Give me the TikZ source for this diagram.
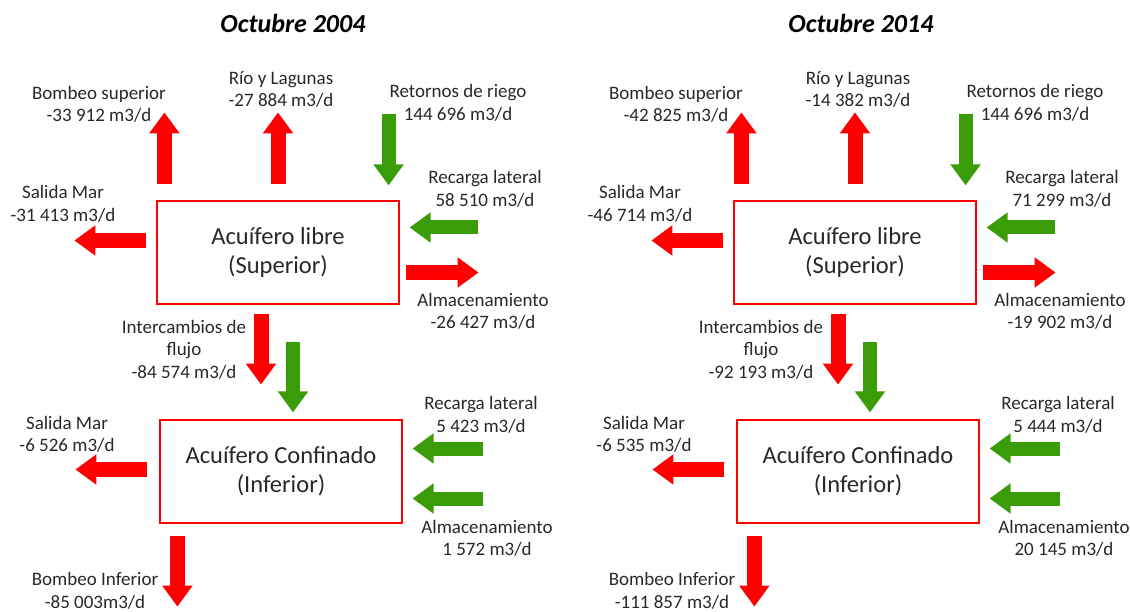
\documentclass[tikz,border=0pt]{standalone}
\usepackage{fontspec}
\setmainfont{Carlito}
\usetikzlibrary{arrows.meta,calc}

\definecolor{rojo}{RGB}{255,0,0}
\definecolor{verde}{RGB}{58,156,8}
\definecolor{texto}{RGB}{40,40,40}

\begin{document}
\begin{tikzpicture}[x=1pt,y=1pt]
	\tikzstyle{acuifero}=[draw=rojo, line width=1.2pt, align=center, text=texto, font=\fontsize{24.5}{29}\selectfont, minimum width=242pt, minimum height=103pt, inner sep=0pt]
	\tikzstyle{dato}=[align=center, text=texto, font=\fontsize{19}{22.5}\selectfont, inner sep=0pt]
	\tikzstyle{titulo}=[font=\fontsize{26}{30}\selectfont\bfseries\itshape, inner sep=0pt]
	\tikzstyle{flecha}=[line width=15pt, -{Triangle[width=29pt,length=21pt]}]
	\tikzstyle{sale}=[flecha, draw=rojo]
	\tikzstyle{entra}=[flecha, draw=verde, line width=14pt]

	\useasboundingbox (0,0) rectangle (1130,-612);

	% Octubre 2004
	\node (tA) [titulo] at (293,-23) {Octubre 2004};

	\node (supA) [acuifero] at (278,-252.5) {Acuífero libre\\(Superior)};
	\node (infA) [acuifero] at (281,-471.5) {Acuífero Confinado\\(Inferior)};

	\node (bsA) [dato] at (99,-104.5) {Bombeo superior\\-33 912 m3/d};
	\node (rlA) [dato] at (281,-89.5) {Río y Lagunas\\-27 884 m3/d};
	\node (rrA) [dato] at (458,-103) {Retornos de riego\\144 696 m3/d};
	\node (smA) [dato] at (63,-204) {Salida Mar\\-31 413 m3/d};
	\node (rcA) [dato] at (485,-189) {Recarga lateral\\58 510 m3/d};
	\node (alA) [dato] at (483,-311.5) {Almacenamiento\\-26 427 m3/d};
	\node (icA) [dato] at (184,-349.5) {Intercambios de\\flujo\\-84 574 m3/d};
	\node (smiA) [dato] at (67,-434.5) {Salida Mar\\-6 526 m3/d};
	\node (rciA) [dato] at (481,-415) {Recarga lateral\\5 423 m3/d};
	\node (aliA) [dato] at (487,-538.5) {Almacenamiento\\1 572 m3/d};
	\node (biA) [dato] at (95,-591) {Bombeo Inferior\\-85 003m3/d};

	\draw [sale] ($(supA.north west)+(8,16)$) -- ($(supA.north west)+(8,88)$);
	\draw [sale] ($(supA.north)+(0,16)$) -- ($(supA.north)+(0,88)$);
	\draw [entra] ($(supA.north east)+(-11,86)$) -- ($(supA.north east)+(-11,15)$);
	\draw [sale] ($(supA.west)+(-10,12)$) -- ($(supA.west)+(-82,12)$);
	\draw [entra] ($(supA.east)+(78,25)$) -- ($(supA.east)+(10,25)$);
	\draw [sale] ($(supA.east)+(6,-20)$) -- ($(supA.east)+(79,-20)$);
	\draw [sale] ($(supA.south)+(-17,-9)$) -- ($(supA.south)+(-17,-80)$);
	\draw [entra] ($(infA.north)+(12,77)$) -- ($(infA.north)+(12,7)$);
	\draw [sale] ($(infA.west)+(-12,2)$) -- ($(infA.west)+(-84,2)$);
	\draw [entra] ($(infA.east)+(80,23)$) -- ($(infA.east)+(10,23)$);
	\draw [entra] ($(infA.east)+(80,-27)$) -- ($(infA.east)+(10,-27)$);
	\draw [sale] ($(infA.south west)+(18,-12)$) -- ($(infA.south west)+(18,-83)$);

	% Octubre 2014
	\begin{scope}[xshift=577pt]
		\node (tB) [titulo] at (284,-23) {Octubre 2014};

		\node (supB) [acuifero] at (278,-252.5) {Acuífero libre\\(Superior)};
		\node (infB) [acuifero] at (281,-471.5) {Acuífero Confinado\\(Inferior)};

		\node (bsB) [dato] at (99,-104.5) {Bombeo superior\\-42 825 m3/d};
		\node (rlB) [dato] at (281,-89.5) {Río y Lagunas\\-14 382 m3/d};
		\node (rrB) [dato] at (458,-103) {Retornos de riego\\144 696 m3/d};
		\node (smB) [dato] at (63,-204) {Salida Mar\\-46 714 m3/d};
		\node (rcB) [dato] at (485,-189) {Recarga lateral\\71 299 m3/d};
		\node (alB) [dato] at (483,-311.5) {Almacenamiento\\-19 902 m3/d};
		\node (icB) [dato] at (184,-349.5) {Intercambios de\\flujo\\-92 193 m3/d};
		\node (smiB) [dato] at (67,-434.5) {Salida Mar\\-6 535 m3/d};
		\node (rciB) [dato] at (481,-415) {Recarga lateral\\5 444 m3/d};
		\node (aliB) [dato] at (487,-538.5) {Almacenamiento\\20 145 m3/d};
		\node (biB) [dato] at (95,-591) {Bombeo Inferior\\-111 857 m3/d};

		\draw [sale] ($(supB.north west)+(8,16)$) -- ($(supB.north west)+(8,88)$);
		\draw [sale] ($(supB.north)+(0,16)$) -- ($(supB.north)+(0,88)$);
		\draw [entra] ($(supB.north east)+(-11,86)$) -- ($(supB.north east)+(-11,15)$);
		\draw [sale] ($(supB.west)+(-10,12)$) -- ($(supB.west)+(-82,12)$);
		\draw [entra] ($(supB.east)+(78,25)$) -- ($(supB.east)+(10,25)$);
		\draw [sale] ($(supB.east)+(6,-20)$) -- ($(supB.east)+(79,-20)$);
		\draw [sale] ($(supB.south)+(-17,-9)$) -- ($(supB.south)+(-17,-80)$);
		\draw [entra] ($(infB.north)+(12,77)$) -- ($(infB.north)+(12,7)$);
		\draw [sale] ($(infB.west)+(-12,2)$) -- ($(infB.west)+(-84,2)$);
		\draw [entra] ($(infB.east)+(80,23)$) -- ($(infB.east)+(10,23)$);
		\draw [entra] ($(infB.east)+(80,-27)$) -- ($(infB.east)+(10,-27)$);
		\draw [sale] ($(infB.south west)+(18,-12)$) -- ($(infB.south west)+(18,-83)$);
	\end{scope}
\end{tikzpicture}
\end{document}
